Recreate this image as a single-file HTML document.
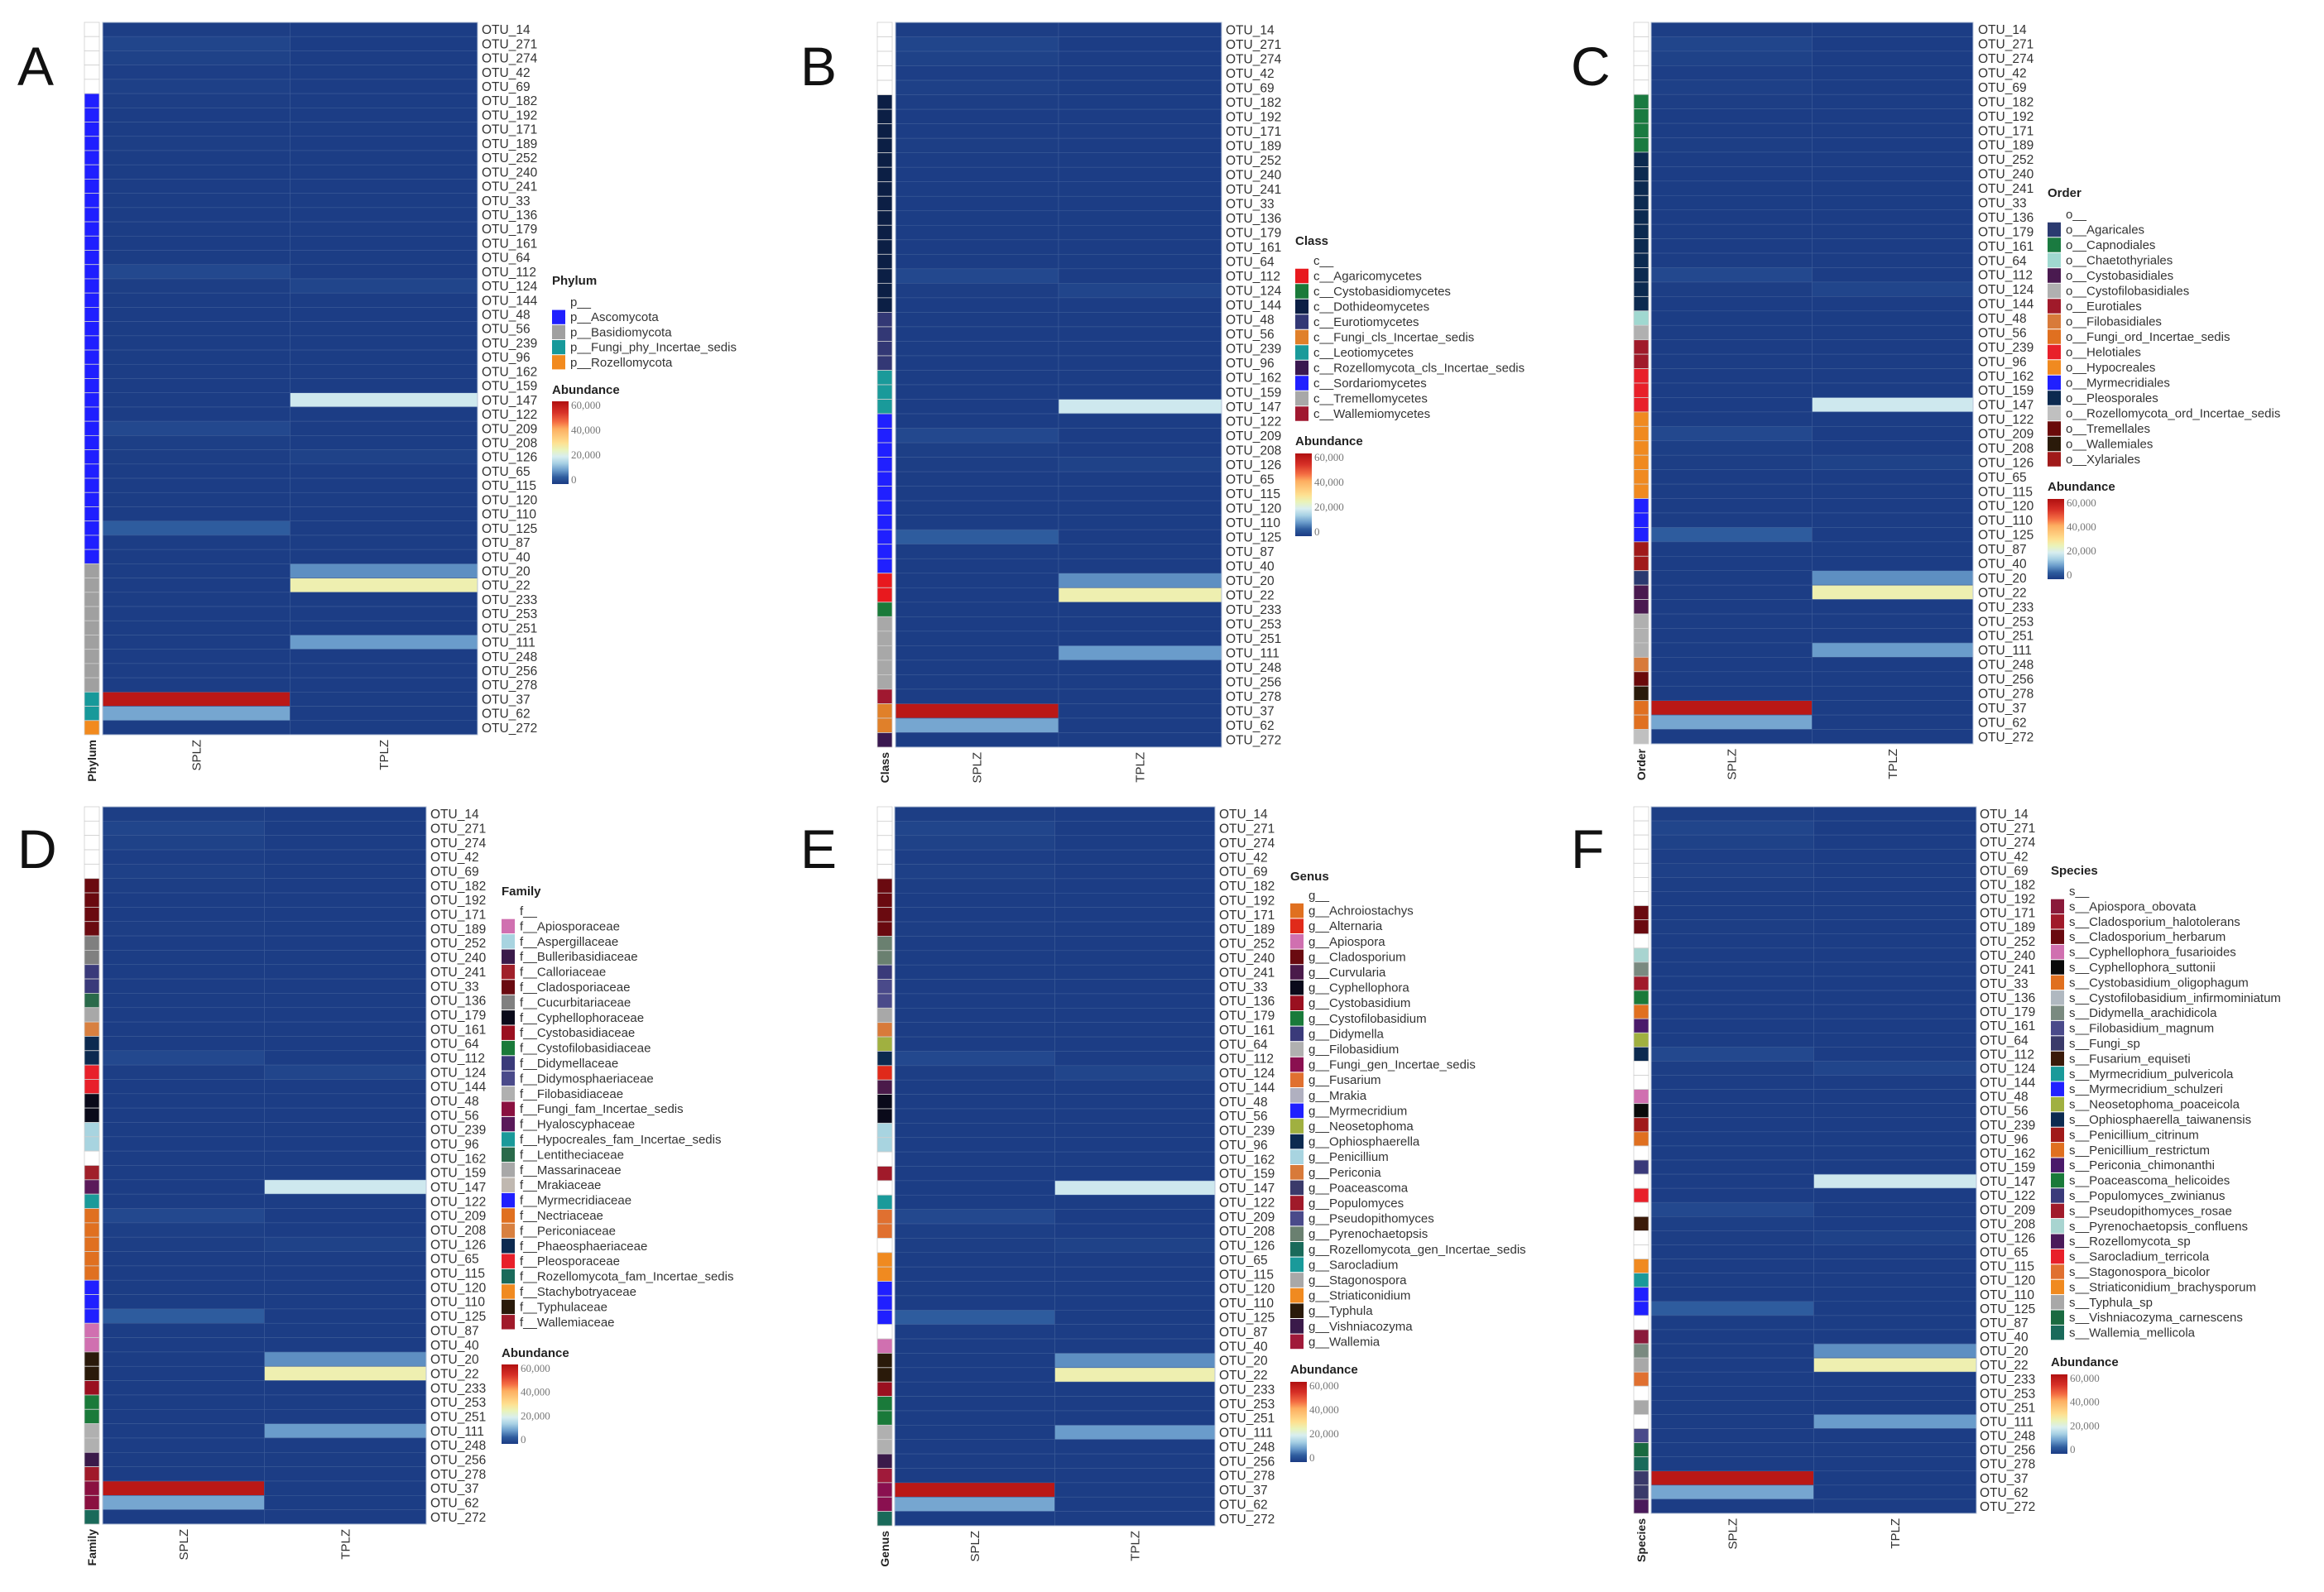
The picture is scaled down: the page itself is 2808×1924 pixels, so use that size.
<!DOCTYPE html>
<html><head><meta charset="utf-8"><style>
html,body{margin:0;padding:0;background:#fff;}
svg{display:block;font-family:"Liberation Sans",sans-serif;}
</style></head><body>
<svg id="fig" width="2808" height="1924" viewBox="0 0 2808 1924" xmlns="http://www.w3.org/2000/svg">
<defs>
<linearGradient id="abund" x1="0" y1="1" x2="0" y2="0">
<stop offset="0" stop-color="#1b3b83"/><stop offset="0.083" stop-color="#2e5c9e"/><stop offset="0.167" stop-color="#6a9ccb"/><stop offset="0.25" stop-color="#a7d0e4"/><stop offset="0.333" stop-color="#d8eef0"/><stop offset="0.417" stop-color="#eaf3b8"/><stop offset="0.5" stop-color="#fee090"/><stop offset="0.667" stop-color="#fdae61"/><stop offset="0.75" stop-color="#f46d43"/><stop offset="0.867" stop-color="#d73027"/><stop offset="1" stop-color="#b01010"/>
</linearGradient>
</defs>
</svg>
<script>
// ---- data ----
const otus = ["OTU_14","OTU_271","OTU_274","OTU_42","OTU_69","OTU_182","OTU_192","OTU_171","OTU_189","OTU_252","OTU_240","OTU_241","OTU_33","OTU_136","OTU_179","OTU_161","OTU_64","OTU_112","OTU_124","OTU_144","OTU_48","OTU_56","OTU_239","OTU_96","OTU_162","OTU_159","OTU_147","OTU_122","OTU_209","OTU_208","OTU_126","OTU_65","OTU_115","OTU_120","OTU_110","OTU_125","OTU_87","OTU_40","OTU_20","OTU_22","OTU_233","OTU_253","OTU_251","OTU_111","OTU_248","OTU_256","OTU_278","OTU_37","OTU_62","OTU_272"];
const samples = ["SPLZ","TPLZ"];
const splz = [400,1500,1000,500,800,400,300,300,400,300,300,300,300,300,300,300,300,2000,400,300,300,300,300,300,300,300,300,300,2000,600,400,300,300,300,300,5000,300,300,300,300,300,300,300,300,300,300,300,58000,11000,300];
const tplz = [300,300,300,300,300,300,300,300,300,300,300,300,300,300,300,300,300,300,1500,300,300,300,300,300,300,300,19000,300,300,300,1000,300,300,300,300,300,300,300,9000,26000,300,300,300,10000,300,300,300,300,300,300];
const abundTicks = [0,20000,40000,60000];
const abundTickLabels = ["0","20,000","40,000","60,000"];

const phylumLegend = [["p__","#ffffff"],["p__Ascomycota","#1f1fff"],["p__Basidiomycota","#a0a0a0"],["p__Fungi_phy_Incertae_sedis","#17999a"],["p__Rozellomycota","#f28a1e"]];
const phylumAnno = [0,0,0,0,0,1,1,1,1,1,1,1,1,1,1,1,1,1,1,1,1,1,1,1,1,1,1,1,1,1,1,1,1,1,1,1,1,1,2,2,2,2,2,2,2,2,2,3,3,4];

const classLegend = [["c__","#ffffff"],["c__Agaricomycetes","#e8191e"],["c__Cystobasidiomycetes","#1a7a3a"],["c__Dothideomycetes","#0c1f45"],["c__Eurotiomycetes","#333875"],["c__Fungi_cls_Incertae_sedis","#e0802a"],["c__Leotiomycetes","#1a9a9a"],["c__Rozellomycota_cls_Incertae_sedis","#3a1850"],["c__Sordariomycetes","#2020ff"],["c__Tremellomycetes","#a8a8a8"],["c__Wallemiomycetes","#a01830"]];
const classAnno = [0,0,0,0,0,3,3,3,3,3,3,3,3,3,3,3,3,3,3,3,4,4,4,4,6,6,6,8,8,8,8,8,8,8,8,8,8,8,1,1,2,9,9,9,9,9,10,5,5,7];

const orderLegend = [["o__","#ffffff"],["o__Agaricales","#2b3a70"],["o__Capnodiales","#1a7a40"],["o__Chaetothyriales","#a0d8d0"],["o__Cystobasidiales","#4a1a50"],["o__Cystofilobasidiales","#b0b0b0"],["o__Eurotiales","#a01a2a"],["o__Filobasidiales","#d87a3a"],["o__Fungi_ord_Incertae_sedis","#e07020"],["o__Helotiales","#e8202a"],["o__Hypocreales","#f08a20"],["o__Myrmecridiales","#2020ff"],["o__Pleosporales","#0c2a50"],["o__Rozellomycota_ord_Incertae_sedis","#c0c0c0"],["o__Tremellales","#6a0a0a"],["o__Wallemiales","#2a1a0a"],["o__Xylariales","#a01a1a"]];
const orderAnno = [0,0,0,0,0,2,2,2,2,12,12,12,12,12,12,12,12,12,12,12,3,5,6,6,9,9,9,10,10,10,10,10,10,11,11,11,16,16,1,4,4,5,5,5,7,14,15,8,8,13];

const familyLegend = [["f__","#ffffff"],["f__Apiosporaceae","#d070b0"],["f__Aspergillaceae","#a8d4e0"],["f__Bulleribasidiaceae","#3a1a4a"],["f__Calloriaceae","#a0202a"],["f__Cladosporiaceae","#6a0a10"],["f__Cucurbitariaceae","#808080"],["f__Cyphellophoraceae","#0a0a1a"],["f__Cystobasidiaceae","#9a1020"],["f__Cystofilobasidiaceae","#1a7a3a"],["f__Didymellaceae","#3a3a7a"],["f__Didymosphaeriaceae","#4a4a8a"],["f__Filobasidiaceae","#b0b0b0"],["f__Fungi_fam_Incertae_sedis","#8a1040"],["f__Hyaloscyphaceae","#5a1a5a"],["f__Hypocreales_fam_Incertae_sedis","#1a9a9a"],["f__Lentitheciaceae","#2a6a4a"],["f__Massarinaceae","#a8a8a8"],["f__Mrakiaceae","#c0b8b0"],["f__Myrmecridiaceae","#2020ff"],["f__Nectriaceae","#e07020"],["f__Periconiaceae","#d88040"],["f__Phaeosphaeriaceae","#0c2a50"],["f__Pleosporaceae","#e8202a"],["f__Rozellomycota_fam_Incertae_sedis","#1a6a5a"],["f__Stachybotryaceae","#f08a20"],["f__Typhulaceae","#2a1a0a"],["f__Wallemiaceae","#a01a2a"]];
const familyAnno = [0,0,0,0,0,5,5,5,5,6,6,10,10,16,17,21,22,22,23,23,7,7,2,2,0,4,14,15,20,20,20,20,20,19,19,19,1,1,26,26,8,9,9,12,12,3,27,13,13,24];

const genusLegend = [["g__","#ffffff"],["g__Achroiostachys","#e07020"],["g__Alternaria","#e02a1a"],["g__Apiospora","#d070b0"],["g__Cladosporium","#6a0a10"],["g__Curvularia","#4a1a4a"],["g__Cyphellophora","#0a0a1a"],["g__Cystobasidium","#9a1020"],["g__Cystofilobasidium","#1a7a3a"],["g__Didymella","#3a3a7a"],["g__Filobasidium","#b0b0b0"],["g__Fungi_gen_Incertae_sedis","#8a1050"],["g__Fusarium","#e07030"],["g__Mrakia","#b0b0c0"],["g__Myrmecridium","#2020ff"],["g__Neosetophoma","#a0b040"],["g__Ophiosphaerella","#0c2a50"],["g__Penicillium","#a8d4e0"],["g__Periconia","#d87a3a"],["g__Poaceascoma","#3a3a6a"],["g__Populomyces","#a01a2a"],["g__Pseudopithomyces","#4a4a8a"],["g__Pyrenochaetopsis","#6a8070"],["g__Rozellomycota_gen_Incertae_sedis","#1a6a5a"],["g__Sarocladium","#1a9a9a"],["g__Stagonospora","#a8a8a8"],["g__Striaticonidium","#f08a20"],["g__Typhula","#2a1a0a"],["g__Vishniacozyma","#3a1a4a"],["g__Wallemia","#a01a3a"]];
const genusAnno = [0,0,0,0,0,4,4,4,4,22,22,9,21,21,25,18,15,16,2,5,6,6,17,17,0,20,0,24,12,12,0,26,26,14,14,14,0,3,27,27,7,8,8,10,10,28,29,11,11,23];

const speciesLegend = [["s__","#ffffff"],["s__Apiospora_obovata","#8a1a3a"],["s__Cladosporium_halotolerans","#a01a2a"],["s__Cladosporium_herbarum","#6a0a10"],["s__Cyphellophora_fusarioides","#d070b0"],["s__Cyphellophora_suttonii","#0a0a0a"],["s__Cystobasidium_oligophagum","#e07020"],["s__Cystofilobasidium_infirmominiatum","#b0b8c0"],["s__Didymella_arachidicola","#7a8a80"],["s__Filobasidium_magnum","#4a4a8a"],["s__Fungi_sp","#3a3a6a"],["s__Fusarium_equiseti","#3a1a0a"],["s__Myrmecridium_pulvericola","#1a9a9a"],["s__Myrmecridium_schulzeri","#2020ff"],["s__Neosetophoma_poaceicola","#a0b040"],["s__Ophiosphaerella_taiwanensis","#0c2a50"],["s__Penicillium_citrinum","#a01a1a"],["s__Penicillium_restrictum","#e07020"],["s__Periconia_chimonanthi","#4a1a6a"],["s__Poaceascoma_helicoides","#1a7a3a"],["s__Populomyces_zwinianus","#3a3a7a"],["s__Pseudopithomyces_rosae","#a01a2a"],["s__Pyrenochaetopsis_confluens","#a8d4d0"],["s__Rozellomycota_sp","#4a1a5a"],["s__Sarocladium_terricola","#e8202a"],["s__Stagonospora_bicolor","#e07030"],["s__Striaticonidium_brachysporum","#f08a20"],["s__Typhula_sp","#a8a8a8"],["s__Vishniacozyma_carnescens","#1a6a40"],["s__Wallemia_mellicola","#1a6a5a"]];
const speciesAnno = [0,0,0,0,0,0,0,3,3,0,22,8,2,19,6,18,14,15,0,0,4,5,16,17,0,20,0,24,0,11,0,0,26,12,13,13,0,1,8,27,25,0,27,0,9,28,29,10,10,23];

// ---- layout (pixel geometry, not data) ----
const panels = [
 {letter:"A",lx:21,ly:103,title:"Phylum",legend:phylumLegend,anno:phylumAnno,ax0:102,ax1:120,hx0:124,hx1:577,top:27,bot:888,labX:582,legX:667,titleY:339,itemY:365,step:18.2,abY:471,bar0:485,bar1:585},
 {letter:"B",lx:967,ly:103,title:"Class",legend:classLegend,anno:classAnno,ax0:1060,ax1:1078,hx0:1082,hx1:1476,top:27,bot:903,labX:1481,legX:1565,titleY:291,itemY:315,step:18.5,abY:533,bar0:548,bar1:648},
 {letter:"C",lx:1898,ly:103,title:"Order",legend:orderLegend,anno:orderAnno,ax0:1974,ax1:1992,hx0:1995,hx1:2384,top:27,bot:899,labX:2390,legX:2474,titleY:233,itemY:259,step:18.5,abY:588,bar0:603,bar1:700},
 {letter:"D",lx:21,ly:1049,title:"Family",legend:familyLegend,anno:familyAnno,ax0:102,ax1:120,hx0:124,hx1:515,top:975,bot:1842,labX:520,legX:606,titleY:1077,itemY:1101,step:18.4,abY:1635,bar0:1649,bar1:1745},
 {letter:"E",lx:967,ly:1049,title:"Genus",legend:genusLegend,anno:genusAnno,ax0:1060,ax1:1078,hx0:1081,hx1:1468,top:975,bot:1844,labX:1473,legX:1559,titleY:1059,itemY:1082,step:18.6,abY:1655,bar0:1670,bar1:1767},
 {letter:"F",lx:1898,ly:1049,title:"Species",legend:speciesLegend,anno:speciesAnno,ax0:1974,ax1:1992,hx0:1995,hx1:2388,top:975,bot:1829,labX:2392,legX:2478,titleY:1052,itemY:1077,step:18.4,abY:1646,bar0:1661,bar1:1757}
];

const NS = "http://www.w3.org/2000/svg";
const svg = document.getElementById("fig");
function mk(tag, attrs, parent){ const e=document.createElementNS(NS,tag); for(const k in attrs) e.setAttribute(k,attrs[k]); (parent||svg).appendChild(e); return e; }

const stops=[[0,[27,59,131]],[5000,[46,92,158]],[10000,[106,156,203]],[15000,[167,208,228]],[20000,[216,238,240]],[25000,[234,243,184]],[30000,[254,224,144]],[40000,[253,174,97]],[45000,[244,109,67]],[52000,[215,48,39]],[60000,[176,16,16]]];
function color(v){ v=Math.max(0,Math.min(60000,v)); for(let i=1;i<stops.length;i++){ if(v<=stops[i][0]){ const a=stops[i-1],b=stops[i],t=(v-a[0])/(b[0]-a[0]); const c=a[1].map((x,j)=>Math.round(x+(b[1][j]-x)*t)); return "rgb("+c.join(",")+")"; } } return "rgb(176,16,16)"; }

panels.forEach((p,pi)=>{
  const g = mk("g",{});
  
  
  const n = otus.length;
  const rowH = (p.bot-p.top)/n;
  const yOf = i => p.top + i*rowH;
  const colW = (p.hx1-p.hx0)/samples.length;
  const xOf = j => p.hx0 + j*colW;
  const series=[splz,tplz];

  const L = mk("text",{x:p.lx,y:p.ly,"font-size":66,fill:"#111"},g); L.textContent=p.letter;
  
  

  // annotation column
  for(let i=0;i<n;i++){
    const r=mk("rect",{x:p.ax0,y:yOf(i),width:p.ax1-p.ax0,height:rowH,fill:p.legend[p.anno[i]][1],stroke:"#cfcfcf","stroke-width":0.8},g);
    
    
  }
  // heatmap cells
  for(let j=0;j<samples.length;j++){
    for(let i=0;i<n;i++){
      const r=mk("rect",{x:xOf(j),y:yOf(i),width:colW,height:rowH,fill:color(series[j][i]),stroke:"#3d5c98","stroke-width":0.6},g);
      
      
    }
    const cx = xOf(j)+colW/2;
    const t=mk("text",{x:0,y:0,"font-size":15,fill:"#333","text-anchor":"end",transform:`translate(${cx+5},${p.bot+6}) rotate(-90)`},g);
    t.textContent=samples[j];
    
    
  }
  mk("rect",{x:p.hx0,y:p.top,width:p.hx1-p.hx0,height:p.bot-p.top,fill:"none",stroke:"#b8c4d8","stroke-width":1},g);
  const at=mk("text",{x:0,y:0,"font-size":14,"font-weight":"bold",fill:"#222","text-anchor":"end",transform:`translate(${(p.ax0+p.ax1)/2+5},${p.bot+6}) rotate(-90)`},g);
  at.textContent=p.title;
  
  

  // row labels
  for(let i=0;i<n;i++){
    const t=mk("text",{x:p.labX,y:yOf(i)+rowH/2+5.5,"font-size":15.5,fill:"#333"},g);
    t.textContent=otus[i];
    
    
  }

  // legend
  const lt=mk("text",{x:p.legX,y:p.titleY+5,"font-size":15,"font-weight":"bold",fill:"#222"},g);
  lt.textContent=p.title;
  
  
  p.legend.forEach((it,k)=>{
    const cy=p.itemY+k*p.step;
    const sq=mk("rect",{x:p.legX,y:cy-p.step/2+0.5,width:16,height:p.step-1,fill:it[1]},g);
    
    
    const tx=mk("text",{x:p.legX+22,y:cy+5,"font-size":15,fill:"#333"},g);
    tx.textContent=it[0];
    
    
  });
  const ab=mk("text",{x:p.legX,y:p.abY+5,"font-size":15,"font-weight":"bold",fill:"#222"},g);
  ab.textContent="Abundance";
  
  
  const bar=mk("rect",{x:p.legX,y:p.bar0,width:20,height:p.bar1-p.bar0,fill:"url(#abund)"},g);
  
  
  abundTicks.forEach((v,k)=>{
    const y=p.bar1-(v/60000)*(p.bar1-p.bar0-10)-5;
    const t=mk("text",{x:p.legX+23,y:y+4,"font-size":13,fill:"#777","font-family":"Liberation Serif, serif"},g);
    t.textContent=abundTickLabels[k];
    
    
  });
});
</script>
</body></html>
